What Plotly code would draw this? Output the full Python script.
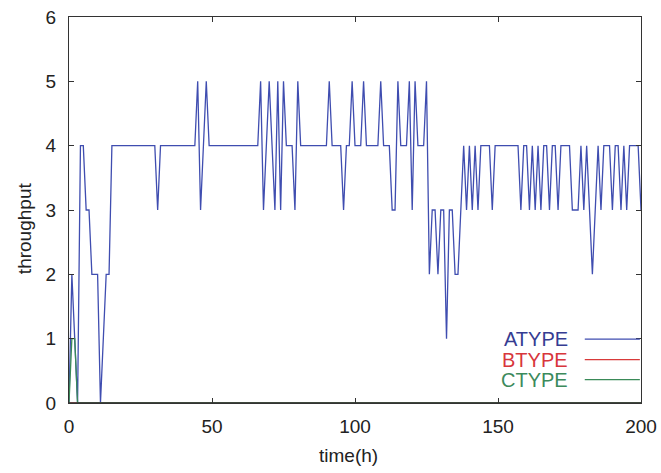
import plotly.graph_objects as go

# time axis (hours)
hours = list(range(0, 201))

ATYPE = [
    0, 2, 1, 0, 4, 4, 3, 3, 2, 2,
    2, 0, 1, 2, 2, 4, 4, 4, 4, 4,
    4, 4, 4, 4, 4, 4, 4, 4, 4, 4,
    4, 3, 4, 4, 4, 4, 4, 4, 4, 4,
    4, 4, 4, 4, 4, 5, 3, 4, 5, 4,
    4, 4, 4, 4, 4, 4, 4, 4, 4, 4,
    4, 4, 4, 4, 4, 4, 4, 5, 3, 4,
    5, 4, 3, 5, 3, 5, 4, 4, 4, 3,
    5, 4, 4, 4, 4, 4, 4, 4, 4, 4,
    4, 5, 4, 4, 4, 4, 3, 4, 4, 5,
    4, 4, 4, 5, 4, 4, 4, 4, 4, 5,
    4, 4, 4, 3, 3, 5, 4, 4, 4, 5,
    3, 5, 4, 4, 4, 5, 2, 3, 3, 2,
    3, 3, 1, 3, 3, 2, 2, 3, 4, 3,
    4, 3, 4, 3, 4, 4, 4, 4, 3, 4,
    4, 4, 4, 4, 4, 4, 4, 4, 3, 4,
    4, 3, 4, 3, 4, 3, 4, 4, 3, 4,
    4, 3, 4, 4, 4, 4, 3, 3, 3, 4,
    3, 4, 3, 2, 3, 4, 3, 4, 4, 4,
    3, 4, 4, 3, 4, 3, 4, 4, 4, 4,
    3,
]

BTYPE = [0] * len(hours)

CTYPE = [0, 1, 1, 0] + [0] * (len(hours) - 4)

series_names = ["ATYPE", "BTYPE", "CTYPE"]
series_values = [ATYPE, BTYPE, CTYPE]
line_colors = ["#3f4db0", "#d83a3a", "#3a8a58"]
text_colors = ["#353c92", "#d8363c", "#3c8a5c"]

x_ticks = [0, 50, 100, 150, 200]
y_ticks = [0, 1, 2, 3, 4, 5, 6]

FONT = "Liberation Sans, Arial, Helvetica, sans-serif"

fig = go.Figure()
for name, vals, col in zip(series_names, series_values, line_colors):
    fig.add_trace(go.Scatter(x=hours, y=vals, mode="lines", name=name,
                             line=dict(color=col, width=1.3), showlegend=False))

axis_common = dict(
    showline=True, linecolor="#333333", linewidth=1.3, mirror="ticks",
    ticks="inside", ticklen=5, tickwidth=1, tickcolor="#333333",
    showgrid=False, zeroline=False, automargin=False,
    tickfont=dict(family=FONT, size=19, color="#222222"),
)
fig.update_xaxes(range=[0, 200], tickvals=x_ticks, ticklabelstandoff=6, **axis_common)
fig.update_yaxes(range=[0, 6], tickvals=y_ticks, ticklabelstandoff=8, **axis_common)

annotations = [
    dict(text="time(h)", x=0.4895, y=-0.135, xref="paper", yref="paper",
         showarrow=False, xanchor="center", yanchor="middle",
         font=dict(family=FONT, size=19, color="#222222")),
    dict(text="throughput", x=-0.0787, y=0.453, xref="paper", yref="paper",
         showarrow=False, xanchor="center", yanchor="middle", textangle=-90,
         font=dict(family=FONT, size=19, color="#222222")),
]
# border drawn in front of the zero-level lines, as in the original
shapes = [dict(type="line", xref="x", yref="y", x0=0, x1=200, y0=0, y1=0,
               line=dict(color="#333333", width=1.6), layer="above")]
legend_y = [0.1654, 0.1122, 0.0604]
for name, ly, tc, lc in zip(series_names, legend_y, text_colors, line_colors):
    annotations.append(dict(text=name, x=0.8755, y=ly, xref="paper", yref="paper",
                            showarrow=False, xanchor="right", yanchor="middle",
                            font=dict(family=FONT, size=20, color=tc)))
    shapes.append(dict(type="line", xref="paper", yref="paper",
                       x0=0.9017, x1=0.998, y0=ly, y1=ly,
                       line=dict(color=lc, width=1.3)))

fig.update_layout(
    width=661, height=473,
    margin=dict(l=69, r=20, t=17, b=70),
    paper_bgcolor="white", plot_bgcolor="white",
    annotations=annotations, shapes=shapes,
    showlegend=False,
)

fig.write_html("out.html")
